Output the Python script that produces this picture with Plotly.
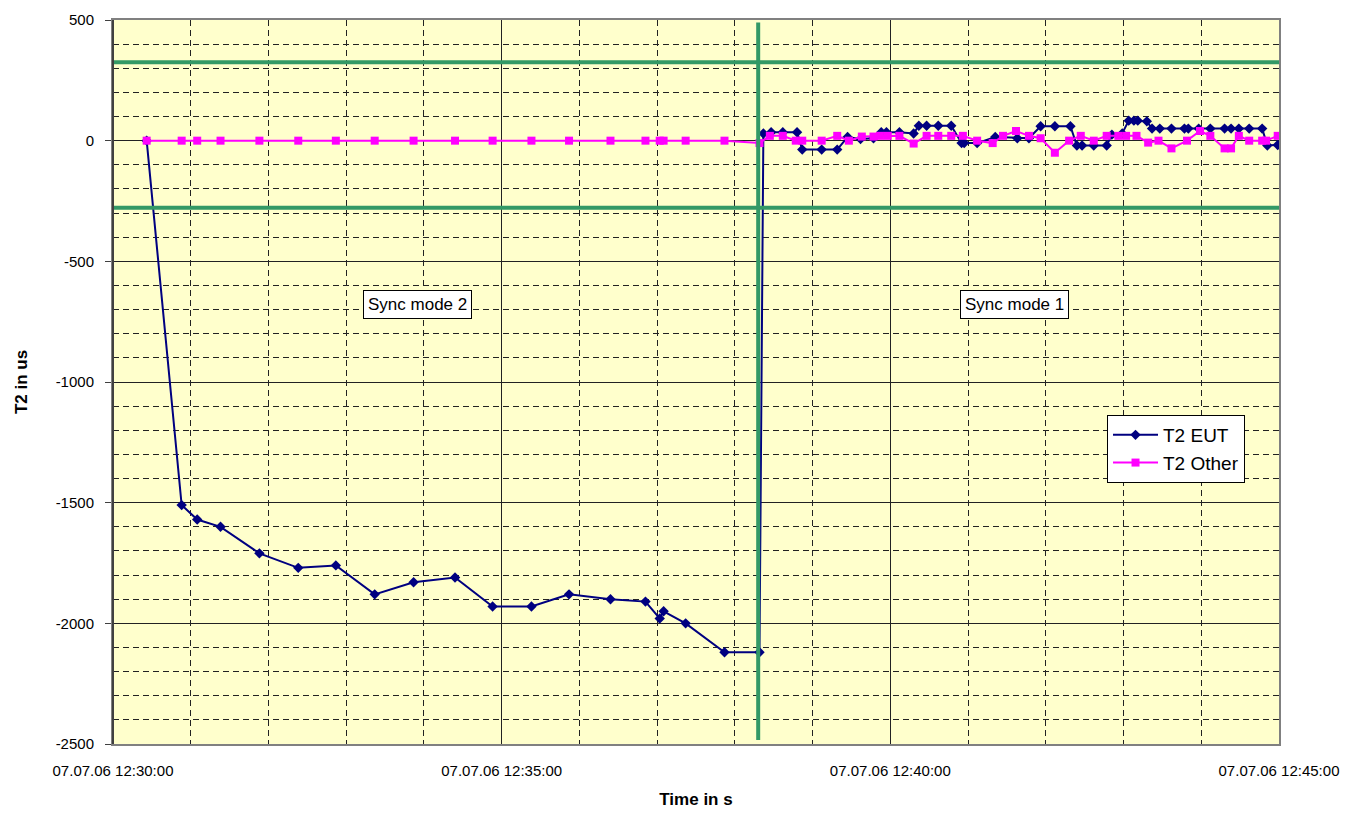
import plotly.graph_objects as go

DAY = "2006-07-07 "

eut_times = [
    "12:30:26", "12:30:53", "12:31:05", "12:31:23", "12:31:53", "12:32:23", "12:32:52",
    "12:33:22", "12:33:52", "12:34:24", "12:34:53", "12:35:23", "12:35:52", "12:36:24",
    "12:36:51", "12:37:02", "12:37:05", "12:37:22", "12:37:52", "12:38:19",
    "12:38:22", "12:38:28", "12:38:37", "12:38:48", "12:38:52", "12:39:07", "12:39:19",
    "12:39:27", "12:39:37", "12:39:47", "12:39:53", "12:39:57", "12:40:07", "12:40:18",
    "12:40:22", "12:40:28", "12:40:37", "12:40:47", "12:40:55", "12:40:57", "12:41:07",
    "12:41:21", "12:41:38", "12:41:47", "12:41:56", "12:42:07", "12:42:19", "12:42:24",
    "12:42:28", "12:42:37", "12:42:47", "12:42:51", "12:42:59", "12:43:04", "12:43:08",
    "12:43:11", "12:43:18", "12:43:22", "12:43:28", "12:43:37", "12:43:47", "12:43:50",
    "12:43:58", "12:44:07", "12:44:18", "12:44:23", "12:44:29", "12:44:37", "12:44:47",
    "12:44:51", "12:44:59",
]
eut_values = [
    0, -1510, -1570, -1600, -1710, -1770, -1760,
    -1880, -1830, -1810, -1930, -1930, -1880, -1900,
    -1910, -1980, -1950, -2000, -2120, -2120,
    30, 35, 35, 35, -37, -37, -37,
    15, 7, 10, 35, 35, 35, 30,
    62, 62, 62, 62, -10, -10, -10,
    15, 10, 10, 60, 60, 60, -20,
    -20, -20, -20, 25, 30, 83, 83,
    83, 80, 50, 50, 50, 50, 50,
    50, 50, 50, 50, 50, 50, 50,
    -20, -18,
]

other_times = [
    "12:30:26", "12:30:53", "12:31:05", "12:31:23", "12:31:53", "12:32:23", "12:32:52",
    "12:33:22", "12:33:52", "12:34:24", "12:34:53", "12:35:23", "12:35:52", "12:36:24",
    "12:36:51", "12:37:02", "12:37:05", "12:37:22", "12:37:52",
    "12:38:19", "12:38:27", "12:38:37", "12:38:47", "12:38:52", "12:39:07", "12:39:19",
    "12:39:28", "12:39:38", "12:39:47", "12:39:52", "12:39:58", "12:40:07", "12:40:18",
    "12:40:28", "12:40:37", "12:40:47", "12:40:56", "12:41:07", "12:41:19", "12:41:27",
    "12:41:37", "12:41:47", "12:41:56", "12:42:07", "12:42:18", "12:42:27", "12:42:37",
    "12:42:47", "12:42:56", "12:43:02", "12:43:10", "12:43:19", "12:43:27", "12:43:37",
    "12:43:49", "12:43:59", "12:44:07", "12:44:18", "12:44:23", "12:44:29", "12:44:37",
    "12:44:47", "12:44:50", "12:44:59",
]
other_values = [
    0, 0, 0, 0, 0, 0, 0,
    0, 0, 0, 0, 0, 0, 0,
    0, 0, 0, 0, 0,
    -10, 20, 20, 0, 0, 0, 20,
    0, 17, 17, 20, 20, 20, -12,
    20, 20, 20, 20, 0, -10, 20,
    40, 20, 10, -50, 0, 20, 0,
    20, 20, 20, 20, -8, 0, -32,
    0, 40, 20, -32, -32, 20, 0,
    0, 0, 20,
]

limit_upper = 325
limit_lower = -278
switch_time = "12:38:18"
switch_span = [-2483, 490]

x_range = ["12:30:00", "12:45:00"]
y_range = [-2500, 500]
x_tick_times = ["12:30:00", "12:35:00", "12:40:00", "12:45:00"]
y_tick_values = [500, 0, -500, -1000, -1500, -2000, -2500]
y_tick_labels = ["500", "0", "-500", "-1000", "-1500", "-2000", "-2500"]

labels = [("Sync mode 2", "12:33:55", -677), ("Sync mode 1", "12:41:36", -677)]

GREEN = "#339966"
FONT = "Arial, Liberation Sans, sans-serif"

fig = go.Figure()
fig.add_trace(go.Scatter(
    x=[DAY + t for t in eut_times], y=eut_values, name="T2 EUT",
    mode="lines+markers",
    line=dict(color="#000080", width=2),
    marker=dict(symbol="diamond", size=8, color="#000080"),
))
fig.add_trace(go.Scatter(
    x=[DAY + t for t in other_times], y=other_values, name="T2 Other",
    mode="lines+markers",
    line=dict(color="#FF00FF", width=2),
    marker=dict(symbol="square", size=8, color="#FF00FF"),
))

for yv in (limit_upper, limit_lower):
    fig.add_shape(type="line", xref="paper", yref="y", x0=0, x1=1, y0=yv, y1=yv,
                  line=dict(color=GREEN, width=4), layer="above")
fig.add_shape(type="line", xref="x", yref="y",
              x0=DAY + switch_time, x1=DAY + switch_time,
              y0=switch_span[0], y1=switch_span[1],
              line=dict(color=GREEN, width=4), layer="above")
# darker left axis line
fig.add_shape(type="line", xref="paper", yref="paper", x0=0, x1=0, y0=0, y1=1,
              line=dict(color="#404040", width=2), layer="above")

for text, t, yv in labels:
    fig.add_annotation(x=DAY + t, y=yv, text=text, showarrow=False,
                       font=dict(family=FONT, size=17, color="black"),
                       bgcolor="white", bordercolor="black", borderwidth=1, borderpad=4)

fig.update_layout(
    width=1345, height=801,
    margin=dict(l=105, r=74, t=12, b=65, autoexpand=False),
    paper_bgcolor="white",
    plot_bgcolor="#FFFFCC",
    font=dict(family=FONT, size=15, color="black"),
    showlegend=True,
    legend=dict(x=0.8525, y=0.4544, xanchor="left", yanchor="top",
                bgcolor="white", bordercolor="black", borderwidth=1,
                font=dict(size=19), itemwidth=45, tracegroupgap=0),
)

fig.update_xaxes(
    type="date",
    automargin=False,
    range=[DAY + x_range[0], DAY + x_range[1]],
    tickvals=[DAY + t for t in x_tick_times],
    tickformat="%d.%m.%y %H:%M:%S",
    tickfont=dict(size=15),
    ticks="", ticklen=0, ticklabelstandoff=12,
    showgrid=True, gridcolor="#222222", gridwidth=1,
    minor=dict(dtick=60000, showgrid=True, gridcolor="#222222", gridwidth=1,
               griddash="6px,4px", ticks=""),
    showline=True, linecolor="#808080", linewidth=2, mirror=True,
    title=dict(text="<b>Time in s</b>", font=dict(size=17), standoff=34),
    zeroline=False,
)
fig.update_yaxes(
    automargin=False,
    range=y_range,
    tickvals=y_tick_values, ticktext=y_tick_labels,
    tickfont=dict(size=15),
    ticks="outside", ticklen=6, tickcolor="#404040", ticklabelstandoff=8,
    showgrid=True, gridcolor="#222222", gridwidth=1,
    minor=dict(dtick=100, tick0=0, showgrid=True, gridcolor="#222222", gridwidth=1,
               griddash="6px,4px"),
    zeroline=True, zerolinecolor="#222222", zerolinewidth=1,
    showline=True, linecolor="#808080", linewidth=2, mirror=True,
    title=dict(text="<b>T2 in us</b>", font=dict(size=17), standoff=24),
)

fig.write_html("out.html")
